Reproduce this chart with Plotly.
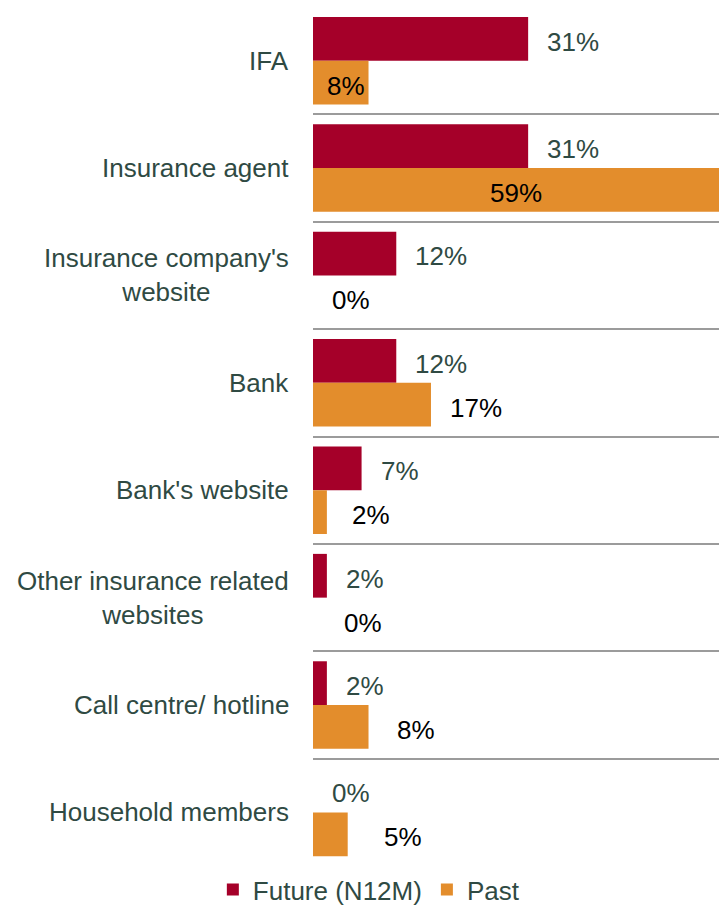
import plotly.graph_objects as go

# Channels used for insurance purchase (share of respondents, %)
categories = [
    "IFA",
    "Insurance agent",
    "Insurance company's<br>website",
    "Bank",
    "Bank's website",
    "Other insurance related<br>websites",
    "Call centre/ hotline",
    "Household members",
]
future_values = [31, 31, 12, 12, 7, 2, 2, 0]
past_values = [8, 59, 0, 17, 2, 0, 8, 5]
series_names = ["Future (N12M)", "Past"]

# Label styling (kept separate from the data)
past_label_mode = ["inside", "center", "outside", "outside", "outside", "outside", "outside", "outside"]
past_label_gap = [17, 0, 17, 17, 23, 29, 26, 34]

FUTURE_COLOR = "#A50029"
PAST_COLOR = "#E38D2C"
TEXT_DARK = "#2F4A43"
FONT = "Liberation Sans, Arial, sans-serif"
FONT_SIZE = 26
X_MAX = 58.5
BAR_PX = 22  # half of one bar's thickness in pixels

fig = go.Figure()
fig.add_trace(go.Bar(
    y=categories, x=future_values, name=series_names[0], orientation="h",
    marker=dict(color=FUTURE_COLOR, line=dict(width=0)),
))
fig.add_trace(go.Bar(
    y=categories, x=past_values, name=series_names[1], orientation="h",
    marker=dict(color=PAST_COLOR, line=dict(width=0)),
))

annotations = []

# Category labels: right-aligned block, lines centred within it
for cat in categories:
    annotations.append(dict(
        xref="paper", x=0, yref="y", y=cat,
        xanchor="right", yanchor="middle", xshift=-22, align="center",
        text=cat, showarrow=False,
        font=dict(family=FONT, size=FONT_SIZE, color=TEXT_DARK),
    ))

# Value labels for the future series (outside the bar end)
for cat, v in zip(categories, future_values):
    annotations.append(dict(
        x=v, y=cat, xanchor="left", yanchor="middle",
        xshift=17, yshift=BAR_PX - 3,
        text=f"{v}%", showarrow=False,
        font=dict(family=FONT, size=FONT_SIZE, color=TEXT_DARK),
    ))

# Value labels for the past series
for cat, v, mode, gap in zip(categories, past_values, past_label_mode, past_label_gap):
    if mode == "inside":
        ax, anchor, shift = v, "right", -2
    elif mode == "center":
        ax, anchor, shift = min(v, X_MAX) / 2, "center", 0
    else:
        ax, anchor, shift = v, "left", gap
    annotations.append(dict(
        x=ax, y=cat, xanchor=anchor, yanchor="middle",
        xshift=shift, yshift=-BAR_PX - 3,
        text=f"{v}%", showarrow=False,
        font=dict(family=FONT, size=FONT_SIZE, color="#000000"),
    ))

fig.update_layout(
    width=719, height=905,
    margin=dict(l=313, r=0, t=7, b=35),
    barmode="group", bargap=0.185, bargroupgap=0,
    plot_bgcolor="white", paper_bgcolor="white",
    font=dict(family=FONT, size=FONT_SIZE, color=TEXT_DARK),
    showlegend=True,
    legend=dict(
        orientation="h", xref="container", yref="container",
        x=0.513, xanchor="center", y=0.017, yanchor="middle",
        font=dict(family=FONT, size=FONT_SIZE, color=TEXT_DARK),
        bgcolor="rgba(0,0,0,0)", itemclick=False,
    ),
    annotations=annotations,
)
fig.update_xaxes(range=[0, X_MAX], showgrid=False, zeroline=False,
                 showticklabels=False, showline=False, fixedrange=True)
fig.update_yaxes(type="category", autorange="reversed", tickson="boundaries",
                 showgrid=True, gridcolor="#9b9b9b", gridwidth=2,
                 showticklabels=False, ticks="", zeroline=False, showline=False,
                 fixedrange=True)

fig.write_html("out.html")
